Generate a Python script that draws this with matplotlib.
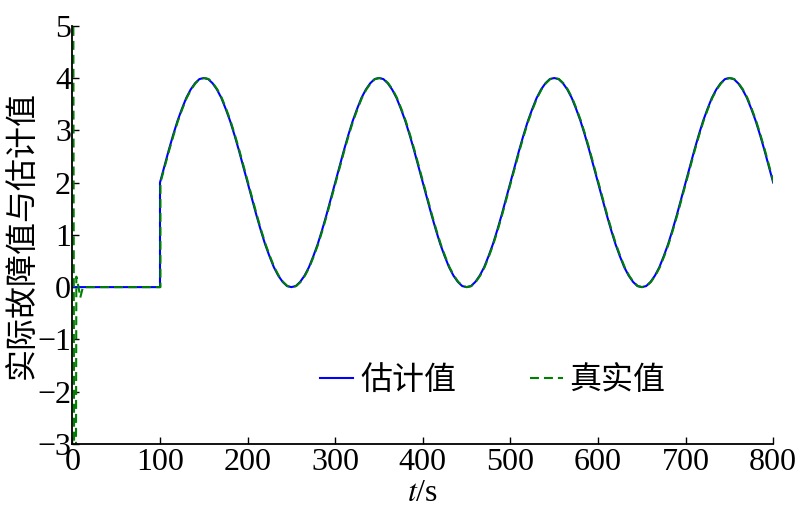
import matplotlib
matplotlib.use('Agg')
import matplotlib.pyplot as plt

plt.rcParams['font.family'] = ['Liberation Serif', 'Noto Sans CJK SC']
plt.rcParams['mathtext.fontset'] = 'stix'

# estimated fault value, every 5 s after the fault starts
est_t = [0, 100] + list(range(100, 801, 5))
est_vals = [0, 0] + [
    2.0, 2.31, 2.62, 2.91, 3.18, 3.41, 3.62, 3.78, 3.9, 3.98,
    4.0, 3.98, 3.9, 3.78, 3.62, 3.41, 3.18, 2.91, 2.62, 2.31,
    2.0, 1.69, 1.38, 1.09, 0.82, 0.59, 0.38, 0.22, 0.1, 0.02,
    0.0, 0.02, 0.1, 0.22, 0.38, 0.59, 0.82, 1.09, 1.38, 1.69,
    2.0, 2.31, 2.62, 2.91, 3.18, 3.41, 3.62, 3.78, 3.9, 3.98,
    4.0, 3.98, 3.9, 3.78, 3.62, 3.41, 3.18, 2.91, 2.62, 2.31,
    2.0, 1.69, 1.38, 1.09, 0.82, 0.59, 0.38, 0.22, 0.1, 0.02,
    0.0, 0.02, 0.1, 0.22, 0.38, 0.59, 0.82, 1.09, 1.38, 1.69,
    2.0, 2.31, 2.62, 2.91, 3.18, 3.41, 3.62, 3.78, 3.9, 3.98,
    4.0, 3.98, 3.9, 3.78, 3.62, 3.41, 3.18, 2.91, 2.62, 2.31,
    2.0, 1.69, 1.38, 1.09, 0.82, 0.59, 0.38, 0.22, 0.1, 0.02,
    0.0, 0.02, 0.1, 0.22, 0.38, 0.59, 0.82, 1.09, 1.38, 1.69,
    2.0, 2.31, 2.62, 2.91, 3.18, 3.41, 3.62, 3.78, 3.9, 3.98,
    4.0, 3.98, 3.9, 3.78, 3.62, 3.41, 3.18, 2.91, 2.62, 2.31,
    2.0]

# true value: start-up transient, then the same curve, a touch later
start_t = [0, 1.0, 2.0, 4.0, 4.5, 7.0, 9.0, 12.0, 100.5]
start_vals = [6.0, 6.0, -4.0, -4.0, 0.2, 0.0, -0.2, 0.0, 0.0]
true_t = start_t + [t + 0.5 for t in range(100, 801, 5)]
true_vals = start_vals + est_vals[2:]

fig = plt.figure(figsize=(8, 5.15), dpi=100)
ax = fig.add_axes([0.0905, 0.138, 0.876, 0.812])

ax.plot(est_t, est_vals, color='#0000ff', lw=1.5, label='估计值')
ax.plot(true_t, true_vals, color='#008000', lw=1.5, dashes=(4.3, 2.4), label='真实值')

ax.set_xlim(0, 800)
ax.set_ylim(-3, 5)
ax.set_xticks(range(0, 801, 100))
ax.set_yticks(range(-3, 6))
ax.spines['top'].set_visible(False)
ax.spines['right'].set_visible(False)
for s in ['left', 'bottom']:
    ax.spines[s].set_linewidth(1.3)
ax.tick_params(direction='in', length=5, width=1, labelsize=23)
ax.tick_params(axis='x', pad=3)
ax.tick_params(axis='y', pad=1)

ax.set_xlabel(r'$t$/s', fontsize=23)
ax.xaxis.set_label_coords(0.5, -0.085)
ax.set_ylabel('实际故障值与估计值', fontsize=23, family=['Noto Sans CJK SC'])
ax.yaxis.set_label_coords(-0.05, 0.5)

ax.legend(loc='center', bbox_to_anchor=(0.6, 0.153), ncol=2, frameon=False,
          prop={'family': 'Noto Sans CJK SC', 'size': 23},
          handlelength=1.03, handletextpad=0.22, columnspacing=2.3)

fig.savefig('out.png', dpi=100)
